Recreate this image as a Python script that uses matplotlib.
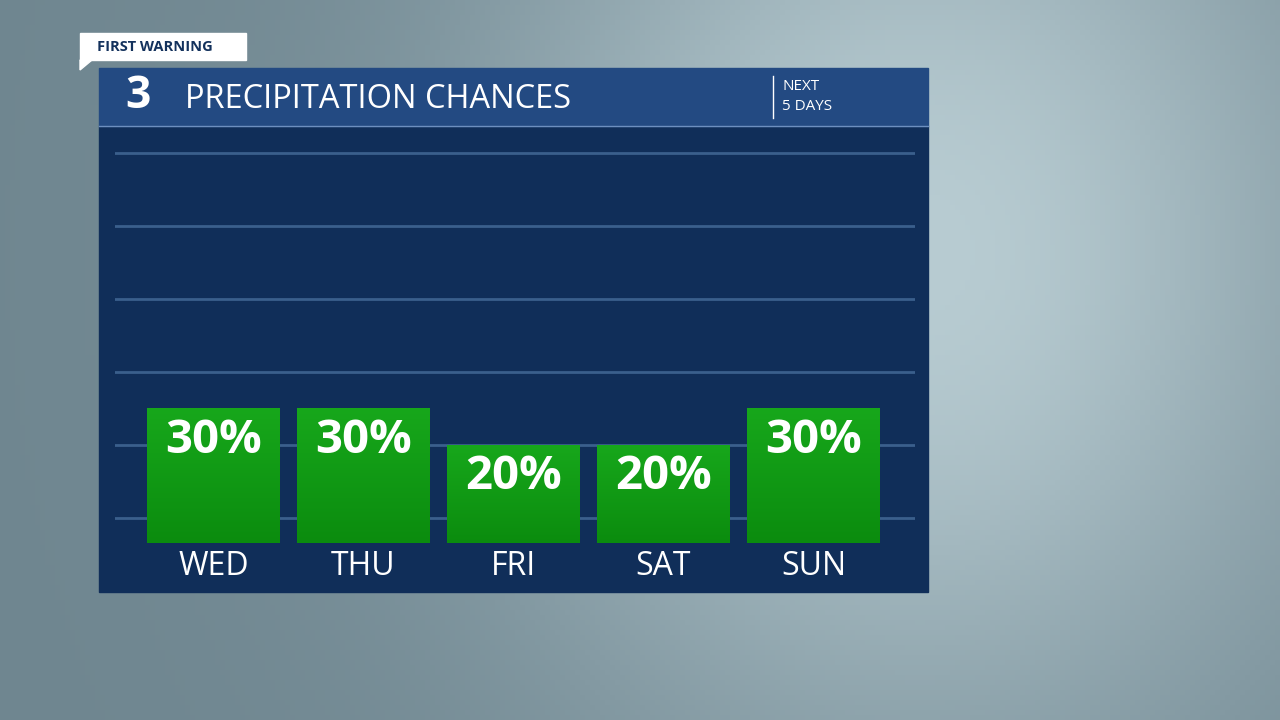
import matplotlib
matplotlib.use("Agg")
import matplotlib.pyplot as plt
import numpy as np
from matplotlib.patches import Rectangle, Polygon
from matplotlib.colors import LinearSegmentedColormap

days = ["WED", "THU", "FRI", "SAT", "SUN"]
chances = [30, 30, 20, 20, 30]
labels = ["30%", "30%", "20%", "20%", "30%"]

W, H = 1280, 720
fig = plt.figure(figsize=(12.8, 7.2), dpi=100)

# background
bg = fig.add_axes([0, 0, 1, 1])
xx = np.linspace(0, 1, 256)
yy = np.linspace(0, 1, 144)
X, Y = np.meshgrid(xx, yy)
c_dark = np.array([0x6f, 0x86, 0x90]) / 255
c_light = np.array([0xb8, 0xcc, 0xd2]) / 255
t = np.exp(-((X - 0.72) ** 2) / 0.12 - ((Y - 0.35) ** 2) / 0.5)
img = c_dark[None, None, :] * (1 - t[..., None]) + c_light[None, None, :] * t[..., None]
bg.imshow(img, extent=[0, W, H, 0], aspect="auto")
bg.set_xlim(0, W); bg.set_ylim(H, 0); bg.axis("off")

# panel
bg.add_patch(Rectangle((99, 126), 829, 466, color="#102e59", zorder=2))
bg.add_patch(Rectangle((99, 68), 829, 58, color="#234a82", zorder=2))
bg.plot([99, 928], [126, 126], color="#6d8fbf", lw=1, zorder=3)
bg.text(185, 99, "PRECIPITATION CHANCES", color="white", fontsize=23.5, va="center",
        family="Open Sans", zorder=4)
bg.text(138, 97, "3", color="white", fontsize=32, fontweight="bold", va="center",
        ha="center", family="Open Sans", zorder=4)
bg.plot([773, 773], [76, 118], color="white", lw=1, zorder=4)
bg.text(782, 87, "NEXT", color="white", fontsize=11, va="center", family="Open Sans", zorder=4)
bg.text(782, 107, "5 DAYS", color="white", fontsize=11, va="center", family="Open Sans", zorder=4)
# first warning tab
bg.add_patch(Rectangle((80, 33), 166, 27, color="white", zorder=4))
bg.add_patch(Polygon([[80, 60], [92, 60], [80, 70]], color="white", zorder=4))
bg.text(97, 47, "FIRST WARNING", color="#13315c", fontsize=10.5, fontweight="bold",
        va="center", family="Open Sans", zorder=5)

# chart axes: x 115..915 px, y 126..592 px
ax = fig.add_axes([115 / W, 1 - 592 / H, 800 / W, 466 / H])
ax.set_facecolor("none")
ppp = 3.65
x = np.arange(len(days))
for g in range(0, 101, 20):
    ax.axhline(g, color="#3a5f8c", lw=2, zorder=1)
base = -6.8
bw = 133 / 150
grad = np.linspace(0, 1, 100)[:, None]
cmap = LinearSegmentedColormap.from_list("g", ["#0b8c0e", "#17a71b"])
for xi, v, lab, d in zip(x, chances, labels, days):
    ax.imshow(grad, extent=[xi - bw / 2, xi + bw / 2, base, v], origin="lower",
              cmap=cmap, aspect="auto", zorder=2)
    ax.text(xi, v - 8.7, lab, color="white", fontsize=34, fontweight="bold",
            ha="center", va="center", family="Open Sans", zorder=3)
    ax.text(xi, -13.4, d, color="white", fontsize=23, ha="center", va="center",
            family="Open Sans", zorder=3)
ax.set_xlim((115 - 213.5) / 150, (915 - 213.5) / 150)
ax.set_ylim((518 - 592) / ppp, (518 - 126) / ppp)
ax.axis("off")

fig.savefig("out.png", dpi=100)
